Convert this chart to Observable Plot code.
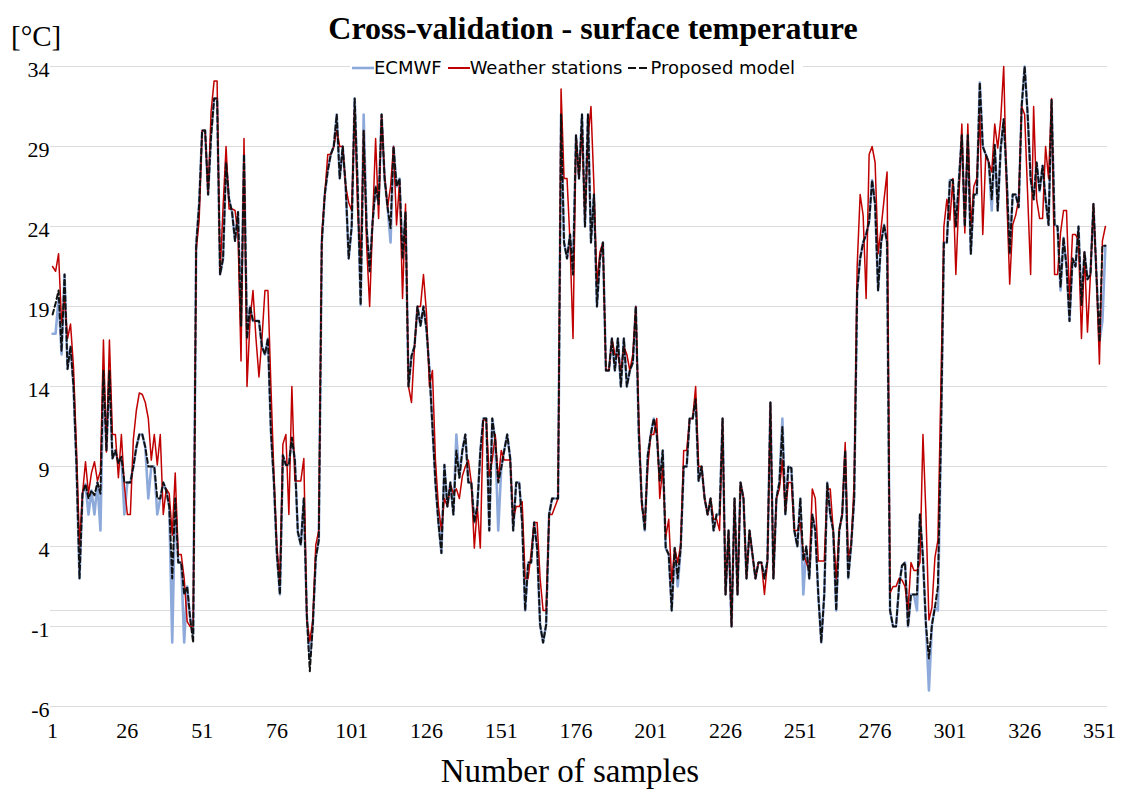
<!DOCTYPE html>
<html><head><meta charset="utf-8">
<script src="https://cdn.jsdelivr.net/npm/d3@7"></script>
<script src="https://cdn.jsdelivr.net/npm/@observablehq/plot@0.6"></script>
<style>
body{margin:0;background:#fff;}
#wrap{position:relative;width:1130px;height:790px;overflow:hidden;}
#chart{position:absolute;left:0;top:0;}
.t{position:absolute;white-space:nowrap;line-height:1;color:#000;}
#title{left:593px;top:10px;transform:translateX(-50%);font:bold 32px "Liberation Serif",serif;}
#unit{left:11px;top:20px;font:29px "Liberation Serif",serif;}
#xlab{left:570px;top:753px;transform:translateX(-50%);font:33px "Liberation Serif",serif;}
#legend{position:absolute;left:350px;top:58px;background:#fff;font:18px "DejaVu Sans",sans-serif;display:flex;align-items:center;padding:0 2px;line-height:20px;color:#000;}
#legend span{display:inline-flex;align-items:center;margin-right:6px;}
</style></head><body>
<div id="wrap">
<div id="chart"></div>
<div class="t" id="title">Cross-validation - surface temperature</div>
<div class="t" id="unit">[°C]</div>
<div id="legend"></div>
<div class="t" id="xlab">Number of samples</div>
</div>
<script>
const seriesNames = ["ECMWF", "Weather stations", "Proposed model"];
const xTicks = [1, 26, 51, 76, 101, 126, 151, 176, 201, 226, 251, 276, 301, 326, 351];
const yTicks = [-6, -1, 4, 9, 14, 19, 24, 29, 34];

const weatherStations = [
21.5,21.2,22.3,18.0,19.5,17.0,17.9,15.2,10.0,4.1,
7.3,9.3,7.3,8.6,9.3,8.1,8.7,16.9,9.9,16.9,
11.0,11.0,8.3,11.0,7.8,6.0,6.0,10.7,12.5,13.6,
13.5,13.0,12.0,9.4,11.0,9.1,11.0,6.0,7.6,7.3,
4.7,8.6,3.5,3.5,2.0,-0.7,-1.0,-1.0,22.5,24.4,
30.0,30.0,26.0,31.2,33.1,33.1,21.0,25.2,29.0,25.1,
25.1,25.0,23.5,15.6,29.5,14.0,18.1,20.0,17.0,14.6,
17.0,20.0,20.0,14.0,8.5,4.0,1.8,10.4,11.0,6.0,
14.0,8.1,8.1,8.1,9.5,-0.6,-1.9,-0.6,4.1,5.0,
23.5,26.0,28.5,28.5,29.0,30.0,29.0,29.0,26.5,25.5,
25.0,31.5,25.0,22.0,30.0,22.8,19.0,24.3,29.5,24.5,
31.0,27.2,25.2,26.5,29.0,24.1,26.8,19.5,25.4,14.0,
13.0,16.5,19.0,19.0,21.0,18.6,14.0,15.0,9.4,6.5,
5.0,7.0,6.5,7.9,7.3,7.6,7.0,8.4,9.0,9.4,
8.0,3.9,6.5,3.9,11.9,11.9,8.4,9.4,11.0,8.1,
10.0,9.4,9.4,9.4,5.7,6.5,6.5,6.8,2.0,2.0,
3.6,5.5,5.5,2.0,0.0,0.0,6.0,6.0,6.5,7.0,
32.6,27.0,27.0,23.0,17.0,29.7,27.0,30.0,24.5,29.5,
31.5,26.5,20.4,22.4,23.0,15.0,15.0,17.0,16.0,16.0,
15.0,16.5,16.0,15.0,16.0,19.0,12.0,6.5,5.5,9.0,
11.0,11.0,12.0,7.0,9.0,4.6,5.7,1.8,3.9,3.0,
4.1,10.0,10.0,12.0,12.0,14.0,9.0,9.0,7.0,6.0,
7.0,5.7,5.7,5.0,12.0,1.0,5.0,-1.0,7.0,1.0,
8.0,7.0,2.0,5.0,3.5,2.0,3.0,3.0,1.0,3.0,
13.0,2.0,7.0,7.6,9.4,6.2,8.0,8.0,5.0,5.0,
5.5,3.6,3.0,2.5,7.6,7.0,3.1,3.1,3.1,7.6,
7.6,5.0,2.0,5.0,6.0,10.5,3.3,4.1,8.0,21.5,
26.0,24.7,19.5,28.5,29.0,28.0,22.3,23.9,25.7,27.4,
1.1,1.5,1.5,2.0,1.9,1.5,0.0,3.0,2.5,2.5,
3.0,11.0,6.0,-0.6,0.2,3.3,4.4,14.0,24.0,25.7,
24.4,27.0,21.0,25.7,30.4,23.6,30.4,24.0,26.5,27.0,
31.0,23.5,28.5,28.0,27.4,30.4,28.9,30.7,34.0,26.0,
20.4,24.1,24.7,25.7,31.5,31.0,26.0,21.0,31.5,25.7,
24.5,24.5,29.0,27.0,32.0,21.0,21.0,23.6,25.0,25.0,
19.4,23.5,23.5,23.1,17.0,22.4,17.4,21.0,25.4,21.0,
15.4,23.1,24.0];

const proposedModel = [
18.5,19.2,20.0,16.2,21.0,15.1,16.5,14.0,9.0,2.0,
7.3,7.9,7.0,7.5,7.2,8.0,7.3,15.0,10.0,15.0,
9.5,10.0,9.2,9.6,8.0,8.0,8.0,9.0,10.2,11.0,
11.0,10.2,9.0,9.0,9.0,7.0,7.0,8.0,7.5,6.5,
2.0,7.0,3.0,3.0,1.0,1.5,-0.5,-2.0,22.8,25.4,
30.0,30.0,26.0,29.7,32.0,32.0,21.0,22.0,28.0,25.7,
24.9,23.1,24.9,17.8,28.5,17.0,19.0,18.1,18.1,18.1,
16.5,16.0,17.0,11.2,8.0,3.5,1.0,9.7,9.1,9.1,
10.8,9.4,4.9,4.1,7.0,-0.3,-3.8,-0.9,3.3,4.4,
23.0,26.0,27.5,28.5,29.0,31.0,27.0,29.0,26.5,22.0,
24.0,32.0,26.5,19.1,30.0,23.9,21.2,24.3,26.5,25.4,
31.0,27.0,25.2,23.9,29.0,26.5,27.0,22.0,24.9,14.0,
15.9,16.5,19.0,17.8,19.0,17.6,15.0,11.5,8.0,5.5,
3.6,9.1,6.5,8.0,6.0,10.0,8.3,10.0,11.0,8.0,
8.0,5.5,6.5,9.9,12.0,12.0,5.0,12.0,10.6,8.0,
8.9,10.0,11.0,9.5,5.0,8.0,8.0,5.5,0.0,3.0,
3.0,5.5,3.9,-0.9,-2.0,-0.9,6.0,7.0,7.0,7.0,
31.0,23.0,22.0,23.5,21.0,29.7,27.0,31.0,24.0,31.0,
23.0,26.0,19.0,22.0,23.0,15.0,15.0,17.0,15.0,17.0,
14.0,17.0,14.0,15.0,15.5,19.0,11.0,6.8,5.0,9.7,
11.0,12.0,11.0,8.1,10.0,3.9,3.5,0.0,3.9,2.0,
3.9,9.0,9.0,12.0,12.0,13.2,8.1,9.0,7.0,6.0,
7.0,5.0,6.0,6.0,12.0,1.0,5.0,-1.0,7.0,1.0,
8.0,7.0,2.0,5.0,3.5,2.0,3.0,3.0,2.0,3.1,
13.0,2.0,7.0,8.0,11.5,6.0,9.0,8.9,5.0,4.0,
7.0,3.1,4.0,2.0,6.0,5.0,1.0,-2.0,1.0,8.0,
6.0,5.0,0.0,5.0,6.0,10.0,2.0,4.1,7.0,20.0,
22.0,23.0,23.5,24.3,26.9,25.4,20.0,23.0,24.1,23.0,
0.0,-1.0,-1.0,1.5,2.8,3.0,-1.0,1.0,1.0,1.0,
6.0,3.3,-0.9,-3.0,-0.9,0.2,1.5,10.7,23.0,23.0,
26.9,26.9,24.0,26.8,29.7,24.0,29.7,22.3,26.0,26.0,
33.0,29.0,28.5,28.0,25.7,29.1,25.0,28.9,30.7,27.0,
22.3,26.0,26.0,25.2,31.5,34.0,31.0,27.0,25.7,28.0,
26.2,27.8,25.7,24.1,31.9,24.1,24.0,20.2,23.3,21.5,
18.1,22.0,21.5,24.0,19.1,22.4,20.7,21.0,25.4,21.0,
16.8,22.8,22.8];

const ecmwf = [
17.3,17.3,19.5,16.0,21.0,15.1,16.5,14.0,9.0,2.0,
7.3,7.9,6.0,7.5,6.0,8.0,5.0,15.0,10.0,15.0,
9.5,10.0,9.2,9.6,6.0,8.0,8.0,9.0,10.2,11.0,
11.0,10.2,7.0,9.0,9.0,6.0,7.0,8.0,7.5,6.5,
-2.0,7.0,3.0,3.0,-2.0,1.5,-0.5,-1.5,22.8,25.4,
30.0,30.0,26.0,29.7,32.0,32.0,21.0,22.0,28.0,25.7,
24.9,23.1,24.9,17.8,28.5,17.0,19.0,18.1,18.1,18.1,
16.5,16.0,17.0,11.2,8.0,3.5,1.0,9.7,9.1,9.1,
10.8,9.4,4.9,4.1,7.0,-0.3,-3.0,-0.9,3.3,4.4,
23.0,26.0,27.5,28.5,29.0,31.0,27.0,29.0,26.5,22.0,
24.0,32.0,26.5,19.1,31.0,23.9,21.2,24.3,26.5,25.4,
31.0,27.0,25.2,23.0,29.0,26.5,27.0,22.0,24.9,14.0,
15.9,16.5,19.0,17.8,19.0,17.6,15.0,11.5,8.0,5.5,
3.6,9.1,6.5,8.0,6.0,11.0,8.3,10.0,11.0,8.0,
8.0,5.5,6.5,9.9,12.0,12.0,5.0,12.0,10.6,5.0,
8.9,10.0,11.0,9.5,5.0,8.0,8.0,5.5,0.0,3.0,
3.0,5.5,3.9,-0.9,-2.0,-0.9,6.0,7.0,7.0,7.0,
31.0,23.0,22.0,23.5,21.0,29.7,27.0,31.0,24.0,31.0,
23.0,26.0,19.0,22.0,23.0,15.0,15.0,17.0,15.0,17.0,
14.0,17.0,14.0,15.0,15.5,19.0,11.0,6.8,5.0,9.7,
11.0,12.0,11.0,8.1,10.0,3.9,3.5,0.0,3.9,1.5,
3.9,9.0,9.0,12.0,12.0,13.2,8.1,9.0,7.0,6.0,
7.0,5.0,6.0,6.0,12.0,1.0,5.0,-1.0,7.0,1.0,
8.0,7.0,2.0,5.0,3.5,2.0,3.0,3.0,2.0,3.1,
13.0,2.0,7.0,8.0,12.0,6.0,9.0,8.9,5.0,4.0,
7.0,1.0,4.0,2.0,6.0,5.0,1.0,-2.0,1.0,8.0,
6.0,5.0,0.0,5.0,6.0,10.0,2.0,4.1,7.0,20.0,
22.0,23.0,23.5,24.3,26.9,25.4,20.0,23.0,24.1,23.0,
0.0,-1.0,-1.0,1.5,2.8,3.0,-1.0,1.0,1.0,0.0,
6.0,3.3,-0.9,-5.0,-0.9,0.2,0.0,10.7,23.0,23.0,
26.9,26.9,24.0,26.8,29.7,24.0,29.7,22.3,26.0,26.0,
33.0,29.0,28.5,28.0,25.0,29.1,25.0,28.9,30.7,27.0,
22.3,26.0,26.0,25.2,31.5,34.0,31.0,27.0,25.7,28.0,
26.2,27.8,25.7,24.1,31.9,24.1,24.0,20.0,23.3,21.5,
18.1,22.0,21.5,24.0,19.1,22.4,20.7,21.0,25.4,21.0,
16.8,18.1,22.8];

const colors = {"ECMWF": "#8eaadb", "Weather stations": "#c00000", "Proposed model": "#111111"};

const fmt = d => String(d);
const chart = Plot.plot({
  width: 1130, height: 790,
  marginTop: 66, marginBottom: 84, marginLeft: 50, marginRight: 23,
  style: {fontFamily: '"Liberation Serif", serif', fontSize: "22px", color: "#000", background: "transparent"},
  x: {domain: [0.3, 353.7]},
  y: {domain: [-6, 34]},
  marks: [
    Plot.gridY(yTicks, {stroke: "#dcdcdc", strokeOpacity: 1}),
    Plot.ruleY([0], {stroke: "#dcdcdc"}),
    Plot.axisX(xTicks, {tickSize: 0, tickPadding: 16, tickFormat: fmt, label: null}),
    Plot.axisY(yTicks, {tickSize: 0, tickPadding: 1, dy: 3, tickFormat: fmt, label: null}),
    Plot.lineY(ecmwf, {x: (d, i) => i + 1, y: d => d, stroke: colors["ECMWF"], strokeWidth: 2.6}),
    Plot.lineY(weatherStations, {x: (d, i) => i + 1, y: d => d, stroke: colors["Weather stations"], strokeWidth: 1.5}),
    Plot.lineY(proposedModel, {x: (d, i) => i + 1, y: d => d, stroke: colors["Proposed model"], strokeWidth: 2, strokeDasharray: "5,3"})
  ]
});
document.getElementById("chart").appendChild(chart);

const legend = document.getElementById("legend");
seriesNames.forEach(name => {
  const span = document.createElement("span");
  const dash = name === "Proposed model" ? ' stroke-dasharray="8,3"' : '';
  const w = name === "ECMWF" ? 2.6 : 2;
  span.innerHTML = `<svg width="22" height="10"><line x1="0" x2="22" y1="5" y2="5" stroke="${colors[name]}" stroke-width="${w}"${dash}/></svg>${name}`;
  legend.appendChild(span);
});
</script>
</body></html>
